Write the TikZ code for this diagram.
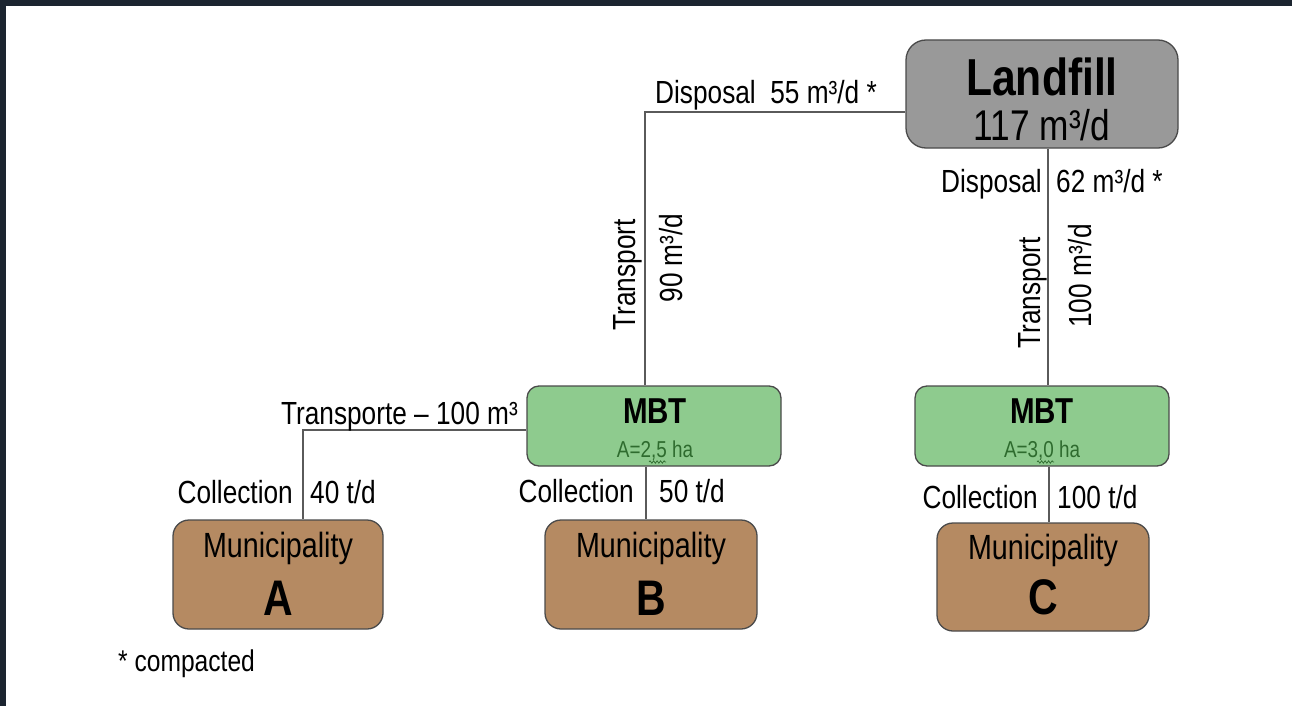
\documentclass[tikz,border=0pt]{standalone}
\usepackage{fontspec}
\setmainfont[FakeStretch=0.82]{Liberation Sans}
\usetikzlibrary{decorations.pathmorphing}

\definecolor{framedark}{HTML}{1C2530}
\definecolor{lfgray}{HTML}{999999}
\definecolor{mbtgreen}{HTML}{8ECB8E}
\definecolor{munibrown}{HTML}{B58A62}
\definecolor{areagreen}{HTML}{2E6B2E}
\definecolor{linegray}{HTML}{5A5A5A}
\definecolor{edgegray}{HTML}{4A4A4A}

\tikzset{
  box/.style={draw=edgegray, line width=1.3pt, inner sep=0pt},
  link/.style={draw=linegray, line width=1.4pt},
  lbl/.style={inner sep=0pt, font=\fontsize{32}{36}\selectfont},
  vlbl/.style={lbl, rotate=90, anchor=base},
}

\begin{document}
\begin{tikzpicture}[x=1pt,y=-1pt]
\useasboundingbox (0,0) rectangle (1292,706);
\fill[framedark] (0,0) rectangle (1292,6);
\fill[framedark] (0,0) rectangle (6,706);

% boxes
\node[box, fill=lfgray, rounded corners=20pt, minimum width=272pt, minimum height=108pt] (landfill) at (1042,94) {};
\node[box, fill=mbtgreen, rounded corners=12pt, minimum width=254pt, minimum height=80pt] (mbtB) at (654,426) {};
\node[box, fill=mbtgreen, rounded corners=12pt, minimum width=254pt, minimum height=80pt] (mbtC) at (1042,426) {};
\node[box, fill=munibrown, rounded corners=16pt, minimum width=210pt, minimum height=109pt] (muniA) at (278,574.5) {};
\node[box, fill=munibrown, rounded corners=16pt, minimum width=212pt, minimum height=109pt] (muniB) at (651,574.5) {};
\node[box, fill=munibrown, rounded corners=16pt, minimum width=212pt, minimum height=108pt] (muniC) at (1043,577) {};

% texts in the boxes
\node[anchor=base, inner sep=0pt, font=\fontsize{52}{56}\selectfont\bfseries] (lfname) at (1042,96) {Landfill};
\node[anchor=base, inner sep=0pt, font=\fontsize{43}{46}\selectfont] (lfvol) at (1042,140) {117 m³/d};
\node[anchor=base, inner sep=0pt, font=\fontsize{36}{40}\selectfont\bfseries] (mbtBname) at (655,423) {MBT};
\node[anchor=base, inner sep=0pt, text=areagreen, font=\fontsize{23}{26}\selectfont] (mbtBarea) at (655,457) {A=2,5 ha};
\node[anchor=base, inner sep=0pt, font=\fontsize{36}{40}\selectfont\bfseries] (mbtCname) at (1042,423) {MBT};
\node[anchor=base, inner sep=0pt, text=areagreen, font=\fontsize{23}{26}\selectfont] (mbtCarea) at (1042,457) {A=3,0 ha};
\node[anchor=base, inner sep=0pt, font=\fontsize{35}{38}\selectfont] (muniAname) at (278,557) {Municipality};
\node[anchor=base, inner sep=0pt, font=\fontsize{50}{54}\selectfont\bfseries] (muniAlet) at (278,615) {A};
\node[anchor=base, inner sep=0pt, font=\fontsize{35}{38}\selectfont] (muniBname) at (651,557) {Municipality};
\node[anchor=base, inner sep=0pt, font=\fontsize{50}{54}\selectfont\bfseries] (muniBlet) at (651,615) {B};
\node[anchor=base, inner sep=0pt, font=\fontsize{35}{38}\selectfont] (muniCname) at (1043,559) {Municipality};
\node[anchor=base, inner sep=0pt, font=\fontsize{50}{54}\selectfont\bfseries] (muniClet) at (1043,614) {C};

% spell-check marks
\draw[areagreen, line width=0.7pt, decorate, decoration={snake, amplitude=1.2pt, segment length=3.5pt}] (649,462) -- (666,462);
\draw[areagreen, line width=0.7pt, decorate, decoration={snake, amplitude=1.2pt, segment length=3.5pt}] (1037,462) -- (1054,462);

% connectors
\coordinate (bendB) at (645,112);
\coordinate (trunkC) at (1048,0);
\coordinate (bendA) at (303,430);
\coordinate (collB) at (646,0);
\coordinate (collC) at (1049,0);
\draw[link] (landfill.west |- bendB) -- (bendB) -- (bendB |- mbtB.north);
\draw[link] (landfill.south -| trunkC) -- (mbtC.north -| trunkC);
\draw[link] (mbtB.west |- bendA) -- (bendA) -- (bendA |- muniA.north);
\draw[link] (mbtB.south -| collB) -- (muniB.north -| collB);
\draw[link] (mbtC.south -| collC) -- (muniC.north -| collC);

% labels
\node[lbl, anchor=base west] (disp55) at (655,104) {Disposal\ \ 55 m³/d *};
\node[lbl, anchor=base east] (disp62) at (1042,192) {Disposal};
\node[lbl, anchor=base west] (vol62) at (1056,192) {62 m³/d *};
\node[vlbl] (transpB) at (635,275) {Transport};
\node[vlbl] (volB) at (682,258) {90 m³/d};
\node[vlbl] (transpC) at (1040,293) {Transport};
\node[vlbl] (volC) at (1091,276) {100 m³/d};
\node[lbl, anchor=base east] (transpA) at (518,424) {Transporte -- 100 m³};
\node[lbl, anchor=base east] (collAtxt) at (293,503) {Collection};
\node[lbl, anchor=base west] (collAval) at (310,503) {40 t/d};
\node[lbl, anchor=base east] (collBtxt) at (634,502) {Collection};
\node[lbl, anchor=base west] (collBval) at (659,502) {50 t/d};
\node[lbl, anchor=base east] (collCtxt) at (1038,508) {Collection};
\node[lbl, anchor=base west] (collCval) at (1057,508) {100 t/d};
\node[anchor=base west, inner sep=0pt, font=\fontsize{30}{34}\selectfont] (note) at (118,671) {* compacted};
\end{tikzpicture}
\end{document}
